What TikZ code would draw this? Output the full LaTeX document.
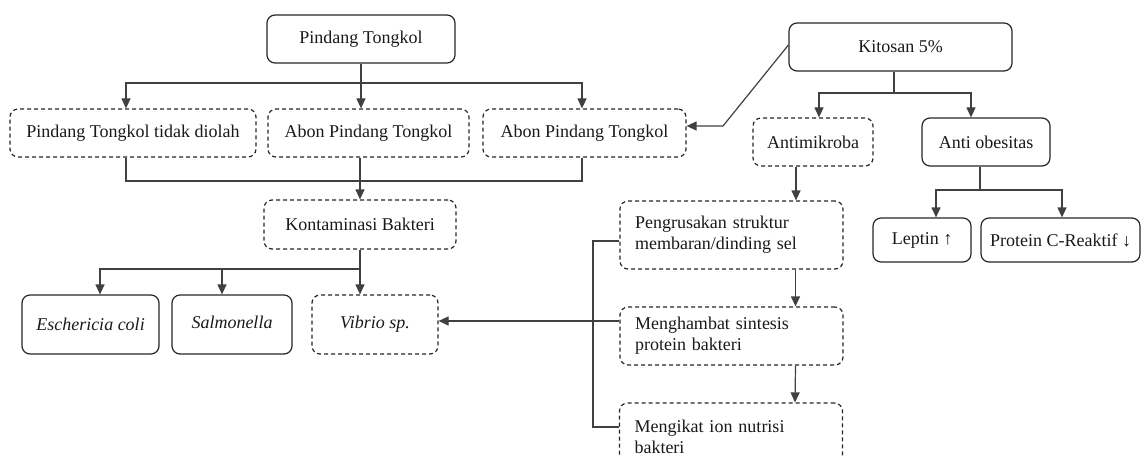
\documentclass[tikz,border=0pt]{standalone}
\usepackage{fontspec}
\setmainfont{Liberation Serif}
\usetikzlibrary{arrows.meta,calc}
\begin{document}
\begin{tikzpicture}[x=1pt,y=-1pt,
 box/.style={draw=black!85, rounded corners=8pt, line width=1.2pt, minimum height=48pt, inner sep=0pt, font=\fontsize{18}{21}\selectfont, text=black!90},
 dbox/.style={box, dash pattern=on 4pt off 3pt},
 wbox/.style={dbox, align=left, text width=193pt, inner xsep=15pt},
 line/.style={line width=1.2pt, draw=black!75},
 arr/.style={line, -{Triangle[length=10pt,width=9pt]}}]
\useasboundingbox (0,0) rectangle (1142,457);
\clip (0,0) rectangle (1142,457);
% nodes
\node[box, minimum width=188pt] (pt) at (361,39) {Pindang Tongkol};
\node[dbox, minimum width=246pt] (a1) at (133,133) {Pindang Tongkol tidak diolah};
\node[dbox, minimum width=201pt] (a2) at (368.5,133) {Abon Pindang Tongkol};
\node[dbox, minimum width=203pt] (a3) at (584.5,133) {Abon Pindang Tongkol};
\node[box, minimum width=223pt] (ki) at (900.5,47) {Kitosan 5\%};
\node[dbox, minimum width=120pt] (am) at (813,142) {Antimikroba};
\node[box, minimum width=128pt] (ao) at (986,142) {Anti obesitas};
\node[dbox, minimum width=192pt, minimum height=49pt] (kb) at (360,224.5) {Kontaminasi Bakteri};
\node[box, minimum width=137pt, minimum height=59pt] (ec) at (90.5,324.5) {\itshape Eschericia coli};
\node[box, minimum width=120pt, minimum height=59pt] (sa) at (232,324.5) {\raisebox{5pt}{\itshape Salmonella}};
\node[dbox, minimum width=126pt, minimum height=59pt] (vi) at (375,324.5) {\itshape Vibrio sp.};
\node[box, minimum width=98pt, minimum height=44pt] (le) at (922,240) {Leptin ↑};
\node[box, minimum width=159pt, minimum height=44pt] (pc) at (1060.5,240) {Protein C-Reaktif ↓};
\node[wbox, minimum height=68pt] (p1) at (731.5,235) {Pengrusakan struktur\\membaran/dinding sel};
\node[wbox, minimum height=58pt] (p2) at (731.5,336) {Menghambat sintesis\\protein bakteri};
\node[wbox, minimum height=68pt] (p3) at (731,437) {Mengikat ion nutrisi\\bakteri};
% junctions
\coordinate (j1) at (361,83);
\coordinate (j2) at (360,181);
\coordinate (j3) at (360,269);
\coordinate (k1) at (723,126);
\coordinate (j4) at (894,93);
\coordinate (j5) at (980,190);
\coordinate (bt) at (593,241);
\coordinate (bb) at (593,427);
% connectors
\draw[line] (pt.south) -- (j1);
\draw[arr] (j1) -| ([xshift=-7pt]a1.north);
\draw[arr] (pt.south) -- (pt.south |- a2.north);
\draw[arr] (j1) -| ([xshift=-2.5pt]a3.north);
\draw[line] ([xshift=-7pt]a1.south) |- (j2);
\draw[line] ([xshift=-2.5pt]a3.south) |- (j2);
\draw[arr] ([xshift=-8.5pt]a2.south) -- (j2 |- kb.north);
\draw[line] (kb.south) -- (j3);
\draw[arr] (j3) -| ([xshift=9.5pt]ec.north);
\draw[arr] (j3) -| ([xshift=-10pt]sa.north);
\draw[arr] (j3) -- (j3 |- vi.north);
\draw[arr] ([yshift=2pt]ki.west) -- (k1) -- (a3.east |- k1);
\draw[line] ([xshift=-6.5pt]ki.south) -- (j4);
\draw[arr] (j4) -| ([xshift=6pt]am.north);
\draw[arr] (j4) -| ([xshift=-15pt]ao.north);
\draw[line] ([xshift=-6pt]ao.south) -- (j5);
\draw[arr] (j5) -| ([xshift=14pt]le.north);
\draw[arr] (j5) -| ([xshift=1.5pt]pc.north);
\draw[arr] ([xshift=-17pt]am.south) -- ([xshift=-17pt]am.south |- p1.north);
\draw[arr] ([xshift=64pt]p1.south) -- ([xshift=64pt]p2.north);
\draw[arr] ([xshift=64pt]p2.south) -- ([xshift=64pt]p3.north);
\draw[line] ([yshift=-6pt]p1.west) -- (bt) -- (bb) -- ([yshift=10pt]p3.west);
\coordinate (m2) at ([yshift=15pt]p2.west);
\draw[arr] (m2) -- (m2 -| vi.east);
\end{tikzpicture}
\end{document}
